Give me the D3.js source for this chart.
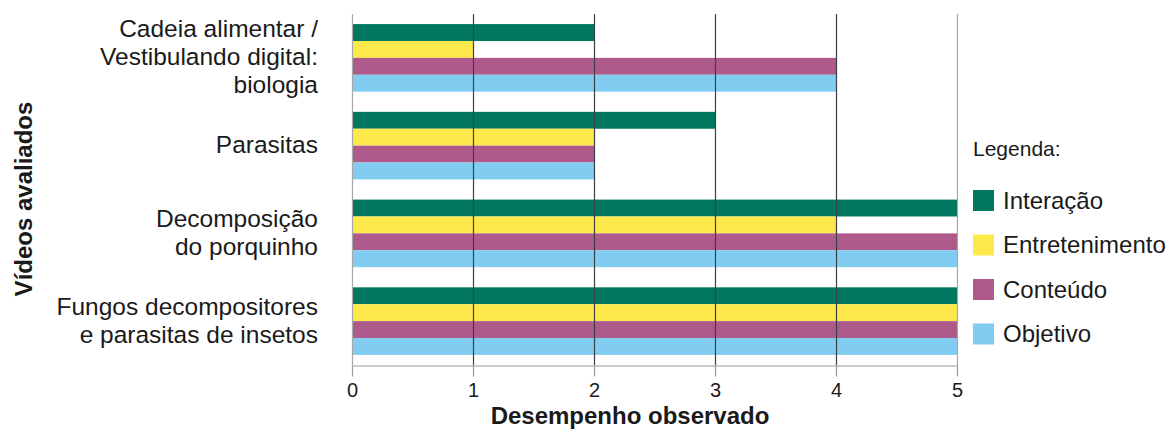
<!DOCTYPE html>
<html>
<head>
<meta charset="utf-8">
<script src="https://cdn.jsdelivr.net/npm/d3@7"></script>
<style>
  html, body { margin: 0; padding: 0; background: #fff; }
  svg { display: block; font-family: "Liberation Sans", Arial, sans-serif; }
</style>
</head>
<body>
<svg id="chart" width="1173" height="429"></svg>
<script>
// Videos evaluated (one group of bars each), top to bottom
const categories = [
  "Cadeia alimentar / Vestibulando digital: biologia",
  "Parasitas",
  "Decomposição do porquinho",
  "Fungos decompositores e parasitas de insetos"
];
const categoryLines = [
  ["Cadeia alimentar /", "Vestibulando digital:", "biologia"],
  ["Parasitas"],
  ["Decomposição", "do porquinho"],
  ["Fungos decompositores", "e parasitas de insetos"]
];

// Criteria (series)
const seriesNames = ["Interação", "Entretenimento", "Conteúdo", "Objetivo"];
const seriesColors = ["#00775e", "#fde94b", "#ae5a8b", "#80cdf1"];

// Scores per video, same order as categories
const interacao      = [2, 3, 5, 5];
const entretenimento = [1, 2, 4, 5];
const conteudo       = [4, 2, 5, 5];
const objetivo       = [4, 2, 5, 5];
const seriesValues = [interacao, entretenimento, conteudo, objetivo];

const xTicks = [0, 1, 2, 3, 4, 5];

const svg = d3.select("#chart");
const plotLeft = 352, plotRight = 957, plotTop = 14, plotBottom = 365;

const x = d3.scaleLinear().domain([0, 5]).range([plotLeft, plotRight]);
const y = d3.scaleBand().domain(categories).range([plotTop, plotBottom])
  .paddingInner(0.23).paddingOuter(0.115);
const ySub = d3.scaleBand().domain(seriesNames).range([0, y.bandwidth()]);

// Bars
const groups = svg.append("g").selectAll("g")
  .data(categories)
  .join("g")
  .attr("transform", d => `translate(0,${y(d)})`);

groups.selectAll("rect")
  .data((c, i) => seriesNames.map((s, j) => ({ s, j, v: seriesValues[j][i] })))
  .join("rect")
  .attr("x", x(0))
  .attr("y", d => ySub(d.s))
  .attr("width", d => x(d.v) - x(0))
  .attr("height", ySub.bandwidth())
  .attr("fill", d => seriesColors[d.j]);

// Vertical grid lines over the bars
svg.append("g").selectAll("line")
  .data(xTicks)
  .join("line")
  .attr("x1", d => Math.round(x(d)) + 0.5)
  .attr("x2", d => Math.round(x(d)) + 0.5)
  .attr("y1", plotTop)
  .attr("y2", plotBottom)
  .attr("stroke", d => (d === 0 || d === 5) ? "#a8a8a8" : "#3c3f44")
  .attr("stroke-width", 1.2);

// X axis
const xAxis = svg.append("g")
  .attr("transform", `translate(0,${plotBottom + 0.5})`)
  .call(d3.axisBottom(x).tickValues(xTicks).tickFormat(d3.format("d"))
    .tickSize(11).tickSizeOuter(0).tickPadding(6));
xAxis.select(".domain").attr("stroke", "#9a9a9a").attr("stroke-width", 1.2);
xAxis.selectAll(".tick line").attr("stroke", "#9a9a9a").attr("stroke-width", 1.2);
xAxis.selectAll(".tick text")
  .attr("font-size", 20)
  .attr("fill", "#1a1a1a")
  .attr("font-family", "'Liberation Sans', Arial, sans-serif");

// X axis title
svg.append("text")
  .attr("x", 630)
  .attr("y", 424)
  .attr("text-anchor", "middle")
  .attr("font-size", 24)
  .attr("font-weight", "bold")
  .attr("fill", "#1a1a1a")
  .text("Desempenho observado");

// Y axis title
svg.append("text")
  .attr("transform", "translate(32,199) rotate(-90)")
  .attr("text-anchor", "middle")
  .attr("font-size", 24)
  .attr("font-weight", "bold")
  .attr("fill", "#1a1a1a")
  .text("Vídeos avaliados");

// Category labels (multi-line, right aligned)
const lineH = 28;
svg.append("g").selectAll("text")
  .data(categories)
  .join("text")
  .attr("text-anchor", "end")
  .attr("font-size", 24.5)
  .attr("fill", "#1a1a1a")
  .each(function (c, i) {
    const lines = categoryLines[i];
    const cy = y(c) + y.bandwidth() / 2;
    const y0 = cy - (lines.length - 1) * lineH / 2 - 1;
    d3.select(this).selectAll("tspan")
      .data(lines)
      .join("tspan")
      .attr("x", 318)
      .attr("y", (d, k) => y0 + k * lineH)
      .attr("dy", "0.35em")
      .text(d => d);
  });

// Legend
svg.append("text")
  .attr("x", 973)
  .attr("y", 156)
  .attr("font-size", 21)
  .attr("fill", "#1a1a1a")
  .text("Legenda:");

const legend = svg.append("g").selectAll("g")
  .data(seriesNames)
  .join("g")
  .attr("transform", (d, i) => `translate(973,${190 + i * 44.5})`);
legend.append("rect")
  .attr("width", 21)
  .attr("height", 21)
  .attr("fill", (d, i) => seriesColors[i]);
legend.append("text")
  .attr("x", 30)
  .attr("y", 10.5)
  .attr("dy", "0.35em")
  .attr("font-size", 24)
  .attr("fill", "#1a1a1a")
  .text(d => d);
</script>
</body>
</html>
